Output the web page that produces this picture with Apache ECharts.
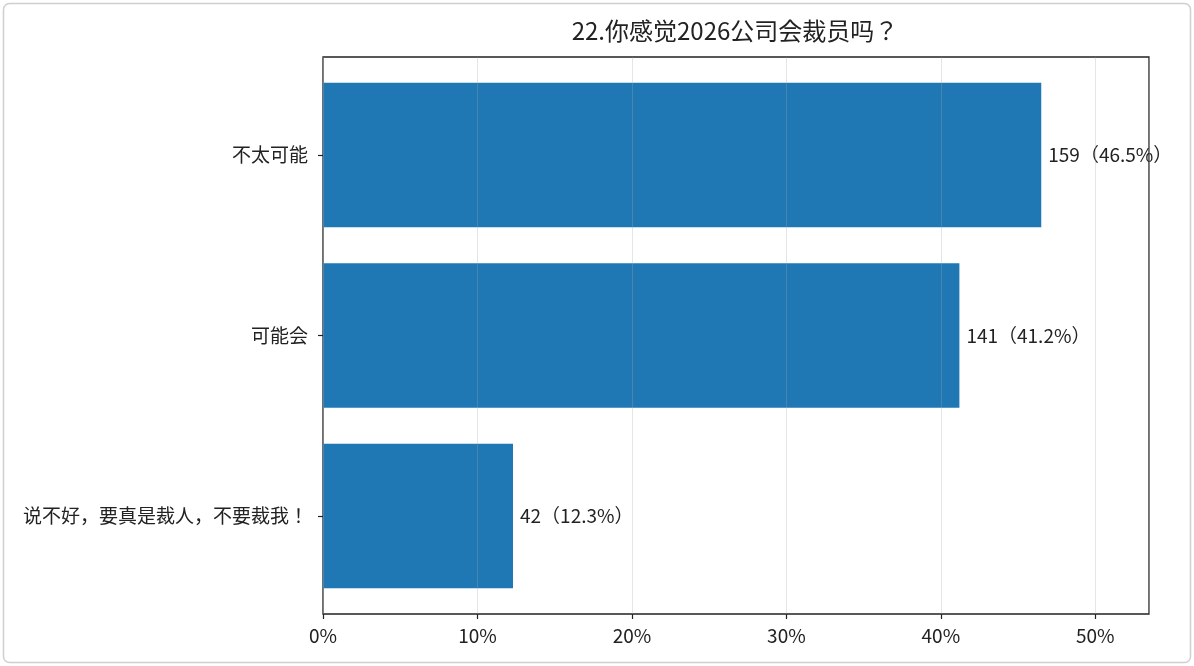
<!DOCTYPE html>
<html>
<head>
<meta charset="utf-8">
<script src="https://cdn.jsdelivr.net/npm/echarts@6/dist/echarts.min.js"></script>
<style>
  html, body { margin: 0; padding: 0; background: #fff; }
  #chart { width: 1194px; height: 666px; }
</style>
</head>
<body>
<div id="chart"></div>
<script>
// data
var categories = ['不太可能', '可能会', '说不好，要真是裁人，不要裁我！'];
var counts = [159, 141, 42];
var percents = [46.5, 41.2, 12.3];
var titleText = '22.你感觉2026公司会裁员吗？';
var xMax = 53.475;

var font = '"Noto Sans CJK JP", "Noto Sans CJK SC", sans-serif';
var myChart = echarts.init(document.getElementById('chart'));

var option = {
    backgroundColor: '#fff',
    animation: false,
    textStyle: { fontFamily: font },
    graphic: [
        {
            type: 'rect',
            shape: { x: 3.5, y: 3.5, width: 1187, height: 659, r: 6 },
            style: { fill: 'none', stroke: '#cfcfcf', lineWidth: 1.5 },
            silent: true
        },
        {
            type: 'text',
            x: 735, y: 31,
            style: {
                text: titleText,
                fill: '#222',
                font: '24px ' + font,
                textAlign: 'center',
                textVerticalAlign: 'middle'
            },
            silent: true
        }
    ],
    grid: [
        // frame grid
        { left: 323, right: 45, top: 57, bottom: 52, show: true, borderColor: '#222', borderWidth: 1.3, backgroundColor: 'transparent' },
        // bar grid
        { left: 323, right: 45, top: 64.75, bottom: 59.75 }
    ],
    xAxis: [
        {
            gridIndex: 0,
            type: 'value',
            min: 0,
            max: xMax,
            interval: 10,
            z: 5,
            axisLine: { show: false },
            axisTick: { show: true, length: 5, lineStyle: { color: '#222', width: 1.2 } },
            axisLabel: { formatter: '{value}%', color: '#222', fontSize: 19, margin: 12, showMaxLabel: false },
            splitLine: { show: true, lineStyle: { color: 'rgba(170,170,170,0.3)', width: 1 } }
        },
        {
            gridIndex: 1,
            type: 'value',
            min: 0,
            max: xMax,
            show: false,
            splitLine: { show: false }
        }
    ],
    yAxis: [
        {
            gridIndex: 0,
            type: 'value',
            show: false,
            splitLine: { show: false }
        },
        {
            gridIndex: 1,
            type: 'category',
            inverse: true,
            data: categories,
            axisLine: { show: false },
            axisTick: { show: true, alignWithLabel: true, length: 5, lineStyle: { color: '#222', width: 1.2 } },
            axisLabel: { color: '#222', fontSize: 19, margin: 15 },
            splitLine: { show: false }
        }
    ],
    series: [
        {
            type: 'bar',
            xAxisIndex: 1,
            yAxisIndex: 1,
            data: percents,
            barCategoryGap: '20%',
            itemStyle: { color: '#1f77b4' },
            z: 2,
            label: {
                show: true,
                position: 'right',
                distance: 7,
                color: '#222',
                fontSize: 19,
                formatter: function (p) {
                    return counts[p.dataIndex] + '（' + percents[p.dataIndex].toFixed(1) + '%）';
                }
            }
        }
    ]
};

myChart.setOption(option);
</script>
</body>
</html>
